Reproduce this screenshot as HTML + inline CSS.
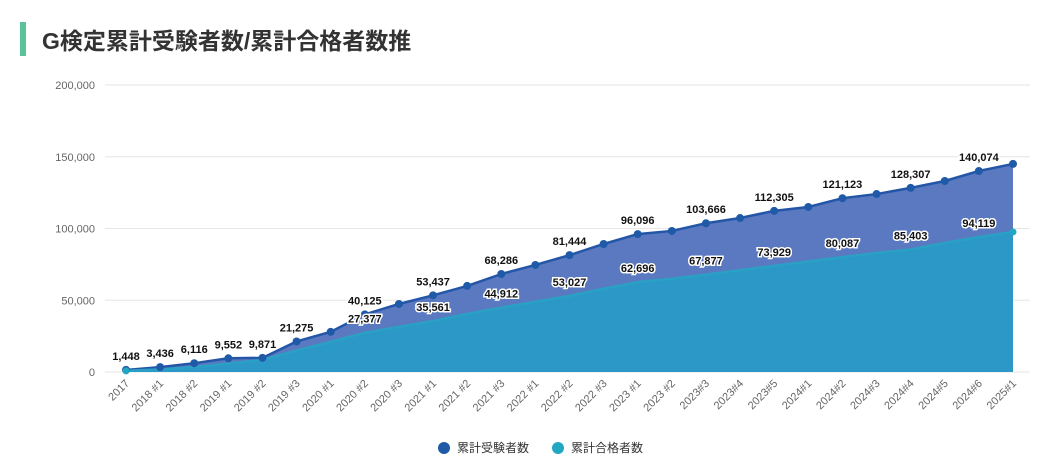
<!DOCTYPE html>
<html><head><meta charset="utf-8"><style>
body{margin:0;background:#fff;width:1054px;height:465px;overflow:hidden;font-family:"Liberation Sans","Noto Sans CJK JP",sans-serif}
#title{position:absolute;left:20px;top:22px;height:34px;display:flex;align-items:center}
#bar{width:6px;height:34px;background:#5cc29a;margin-right:16px}
#title span{font-size:23px;font-weight:bold;color:#333}
</style></head><body>
<div id="title"><div id="bar"></div><span>G検定累計受験者数/累計合格者数推</span></div>
<svg id="c" width="1054" height="465" style="position:absolute;left:0;top:0"></svg>
<script>
const categories=["2017","2018 #1","2018 #2","2019 #1","2019 #2","2019 #3","2020 #1","2020 #2","2020 #3","2021 #1","2021 #2","2021 #3","2022 #1","2022 #2","2022 #3","2023 #1","2023 #2","2023#3","2023#4","2023#5","2024#1","2024#2","2024#3","2024#4","2024#5","2024#6","2025#1"];
const examinees=[1448,3436,6116,9552,9871,21275,28000,40125,47400,53437,60000,68286,74600,81444,89200,96096,98300,103666,107300,112305,115000,121123,124000,128307,133100,140074,145000];
const passers=[800,1800,3500,5800,8500,15000,21000,27377,31500,35561,40500,44912,49000,53027,58000,62696,65000,67877,71000,73929,77000,80087,83000,85403,90000,94119,97600];
const yTicks=[0,50000,100000,150000,200000];
const examLabelIdx=[0,1,2,3,4,5,7,9,11,13,15,17,19,21,23,25];
const passLabelIdx=[7,9,11,13,15,17,19,21,23,25];
const NS="http://www.w3.org/2000/svg",svg=document.getElementById('c');
const x0=126,x1=1013,yb=372,yt=85;
const X=i=>x0+(x1-x0)*i/(categories.length-1);
const Y=v=>yb-(yb-yt)*v/200000;
const fmt=v=>v.toLocaleString('en-US');
function el(t,a,p){const e=document.createElementNS(NS,t);for(const k in a)e.setAttribute(k,a[k]);(p||svg).appendChild(e);return e;}
yTicks.forEach(v=>{
 const g=el('line',{x1:105,x2:1030,y1:Y(v),y2:Y(v),stroke:'#e6e6e6'});
 
 
 const t=el('text',{x:95,y:Y(v)+4,'text-anchor':'end','font-size':11,fill:'#666'});t.textContent=fmt(v);
 
 
});
function area(vals,fill,stroke,name){
 let d='M'+X(0)+','+yb;vals.forEach((v,i)=>d+='L'+X(i)+','+Y(v));d+='L'+X(vals.length-1)+','+yb+'Z';
 const a=el('path',{d:d,fill:fill});
 
 
 let l='';vals.forEach((v,i)=>l+=(i?'L':'M')+X(i)+','+Y(v));
 const p=el('path',{d:l,fill:'none',stroke:stroke,'stroke-width':2.5});
 
 
}
area(examinees,'#5b79c0','#2456a8','examinees');
area(passers,'#2b98c8','#2aa0c4','passers');
examinees.forEach((v,i)=>{const c=el('circle',{cx:X(i),cy:Y(v),r:4,fill:'#1f5aa8'});
 
 });
[0,passers.length-1].forEach(i=>{const c=el('circle',{cx:X(i),cy:Y(passers[i]),r:3.5,fill:'#22a7c3'});
 
 });
function label(vals,idx,name){idx.forEach(i=>{const t=el('text',{x:X(i),y:Y(vals[i])-10,'text-anchor':'middle','font-size':11,'font-weight':'bold',fill:'#111',stroke:'#fff','stroke-width':3,'paint-order':'stroke'});t.textContent=fmt(vals[i]);
 
 });}
label(examinees,examLabelIdx,'examinees');
label(passers,passLabelIdx,'passers');
categories.forEach((c,i)=>{const t=el('text',{x:X(i)+4,y:384,'text-anchor':'end','font-size':11,fill:'#666',transform:`rotate(-45 ${X(i)+4} 384)`});t.textContent=c;
 
 });
[['累計受験者数','#1f5aa8',444],['累計合格者数','#22a7c3',558]].forEach(([n,c,x])=>{
 const g=el('g',{});
 
 
 el('circle',{cx:x,cy:448,r:6,fill:c},g);
 const t=el('text',{x:x+13,y:452,'font-size':12,fill:'#333'},g);t.textContent=n;
});
</script>
</body></html>
